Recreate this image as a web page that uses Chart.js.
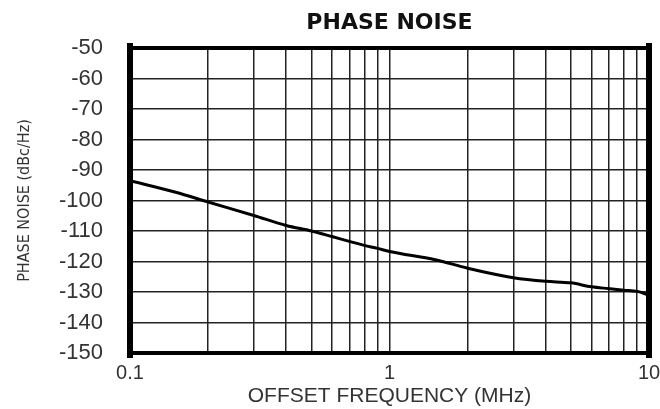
<!DOCTYPE html>
<html>
<head>
<meta charset="utf-8">
<script src="https://cdn.jsdelivr.net/npm/chart.js@4/dist/chart.umd.min.js"></script>
<style>
  html, body { margin: 0; padding: 0; background: #fff; }
  canvas { display: block; }
</style>
</head>
<body>
<canvas id="c" width="660" height="409"></canvas>
<script>
// ---- data ----
const chartTitle = 'PHASE NOISE';
const xTitle = 'OFFSET FREQUENCY (MHz)';
const yTitle = 'PHASE NOISE (dBc/Hz)';

const freqMHz = [0.1, 0.15, 0.2, 0.3, 0.4, 0.5, 0.6, 0.7, 0.8, 0.9, 1, 1.5, 2, 3, 4, 5, 6, 7, 8, 9, 10];
const phaseNoise = [-93.5, -97.3, -100.5, -104.9, -108.2, -110.0, -111.8, -113.4, -114.7, -115.7, -116.7, -119.4, -122.2, -125.3, -126.5, -127.0, -128.3, -128.9, -129.4, -129.8, -131.0];

const xGridTicks = [0.1, 0.2, 0.3, 0.4, 0.5, 0.6, 0.7, 0.8, 0.9, 1, 2, 3, 4, 5, 6, 7, 8, 9, 10];
const xTickLabels = [0.1, 1, 10];
const yMin = -150, yMax = -50, yStep = 10;

const frameBorder = {
  id: 'frameBorder',
  afterDatasetsDraw(chart) {
    const {ctx, chartArea: a} = chart;
    ctx.save();
    ctx.strokeStyle = '#000';
    ctx.lineCap = 'square';
    ctx.lineWidth = 4;
    ctx.beginPath();
    ctx.moveTo(a.left, a.top); ctx.lineTo(a.right, a.top);
    ctx.moveTo(a.left, a.bottom); ctx.lineTo(a.right, a.bottom);
    ctx.stroke();
    ctx.lineWidth = 6;
    ctx.beginPath();
    ctx.moveTo(a.left, a.top - 2); ctx.lineTo(a.left, a.bottom + 2);
    ctx.moveTo(a.right, a.top - 2); ctx.lineTo(a.right, a.bottom + 2);
    ctx.stroke();
    ctx.restore();
  }
};

new Chart(document.getElementById('c'), {
  type: 'line',
  data: {
    datasets: [{
      data: freqMHz.map((f, i) => ({x: f, y: phaseNoise[i]})),
      borderColor: '#000',
      borderWidth: 3,
      pointRadius: 0,
      fill: false,
      cubicInterpolationMode: 'monotone'
    }]
  },
  options: {
    responsive: false,
    devicePixelRatio: 1,
    animation: false,
    layout: { padding: { left: 0, right: 0, top: 0, bottom: 0 } },
    plugins: {
      legend: { display: false },
      tooltip: { enabled: false },
      title: {
        display: true,
        text: chartTitle,
        fullSize: false,
        color: '#111',
        font: { family: 'DejaVu Sans', size: 22, weight: 'bold' },
        padding: { top: 10, bottom: 11.6 }
      }
    },
    scales: {
      x: {
        type: 'logarithmic',
        min: 0.1,
        max: 10,
        afterFit(scale) {
          scale.height = 56;
          scale.paddingLeft = 0;
          scale.paddingRight = 11;
        },
        afterBuildTicks(scale) { scale.ticks = xGridTicks.map(v => ({value: v})); },
        ticks: {
          autoSkip: false,
          maxRotation: 0,
          minRotation: 0,
          padding: 8,
          color: '#333',
          font: { family: 'Liberation Sans', size: 20 },
          callback: (v) => xTickLabels.includes(v) ? String(v) : ''
        },
        grid: { color: '#222', lineWidth: 1.5, drawTicks: false },
        border: { display: false },
        title: {
          display: true,
          text: xTitle,
          color: '#333',
          font: { family: 'Liberation Sans', size: 21 },
          padding: { top: 0, bottom: 0 }
        }
      },
      y: {
        type: 'linear',
        min: yMin,
        max: yMax,
        afterFit(scale) { scale.width = 130; },
        ticks: {
          stepSize: yStep,
          padding: 27,
          color: '#333',
          font: { family: 'Liberation Sans', size: 22 },
          callback: (v) => String(v)
        },
        grid: { color: '#222', lineWidth: 1.5, drawTicks: false },
        border: { display: false },
        title: {
          display: true,
          text: yTitle,
          color: '#333',
          font: { family: "'DejaVu Sans Condensed', sans-serif", size: 16 },
          padding: { top: 15, bottom: 0 }
        }
      }
    }
  },
  plugins: [frameBorder]
});
</script>
</body>
</html>
